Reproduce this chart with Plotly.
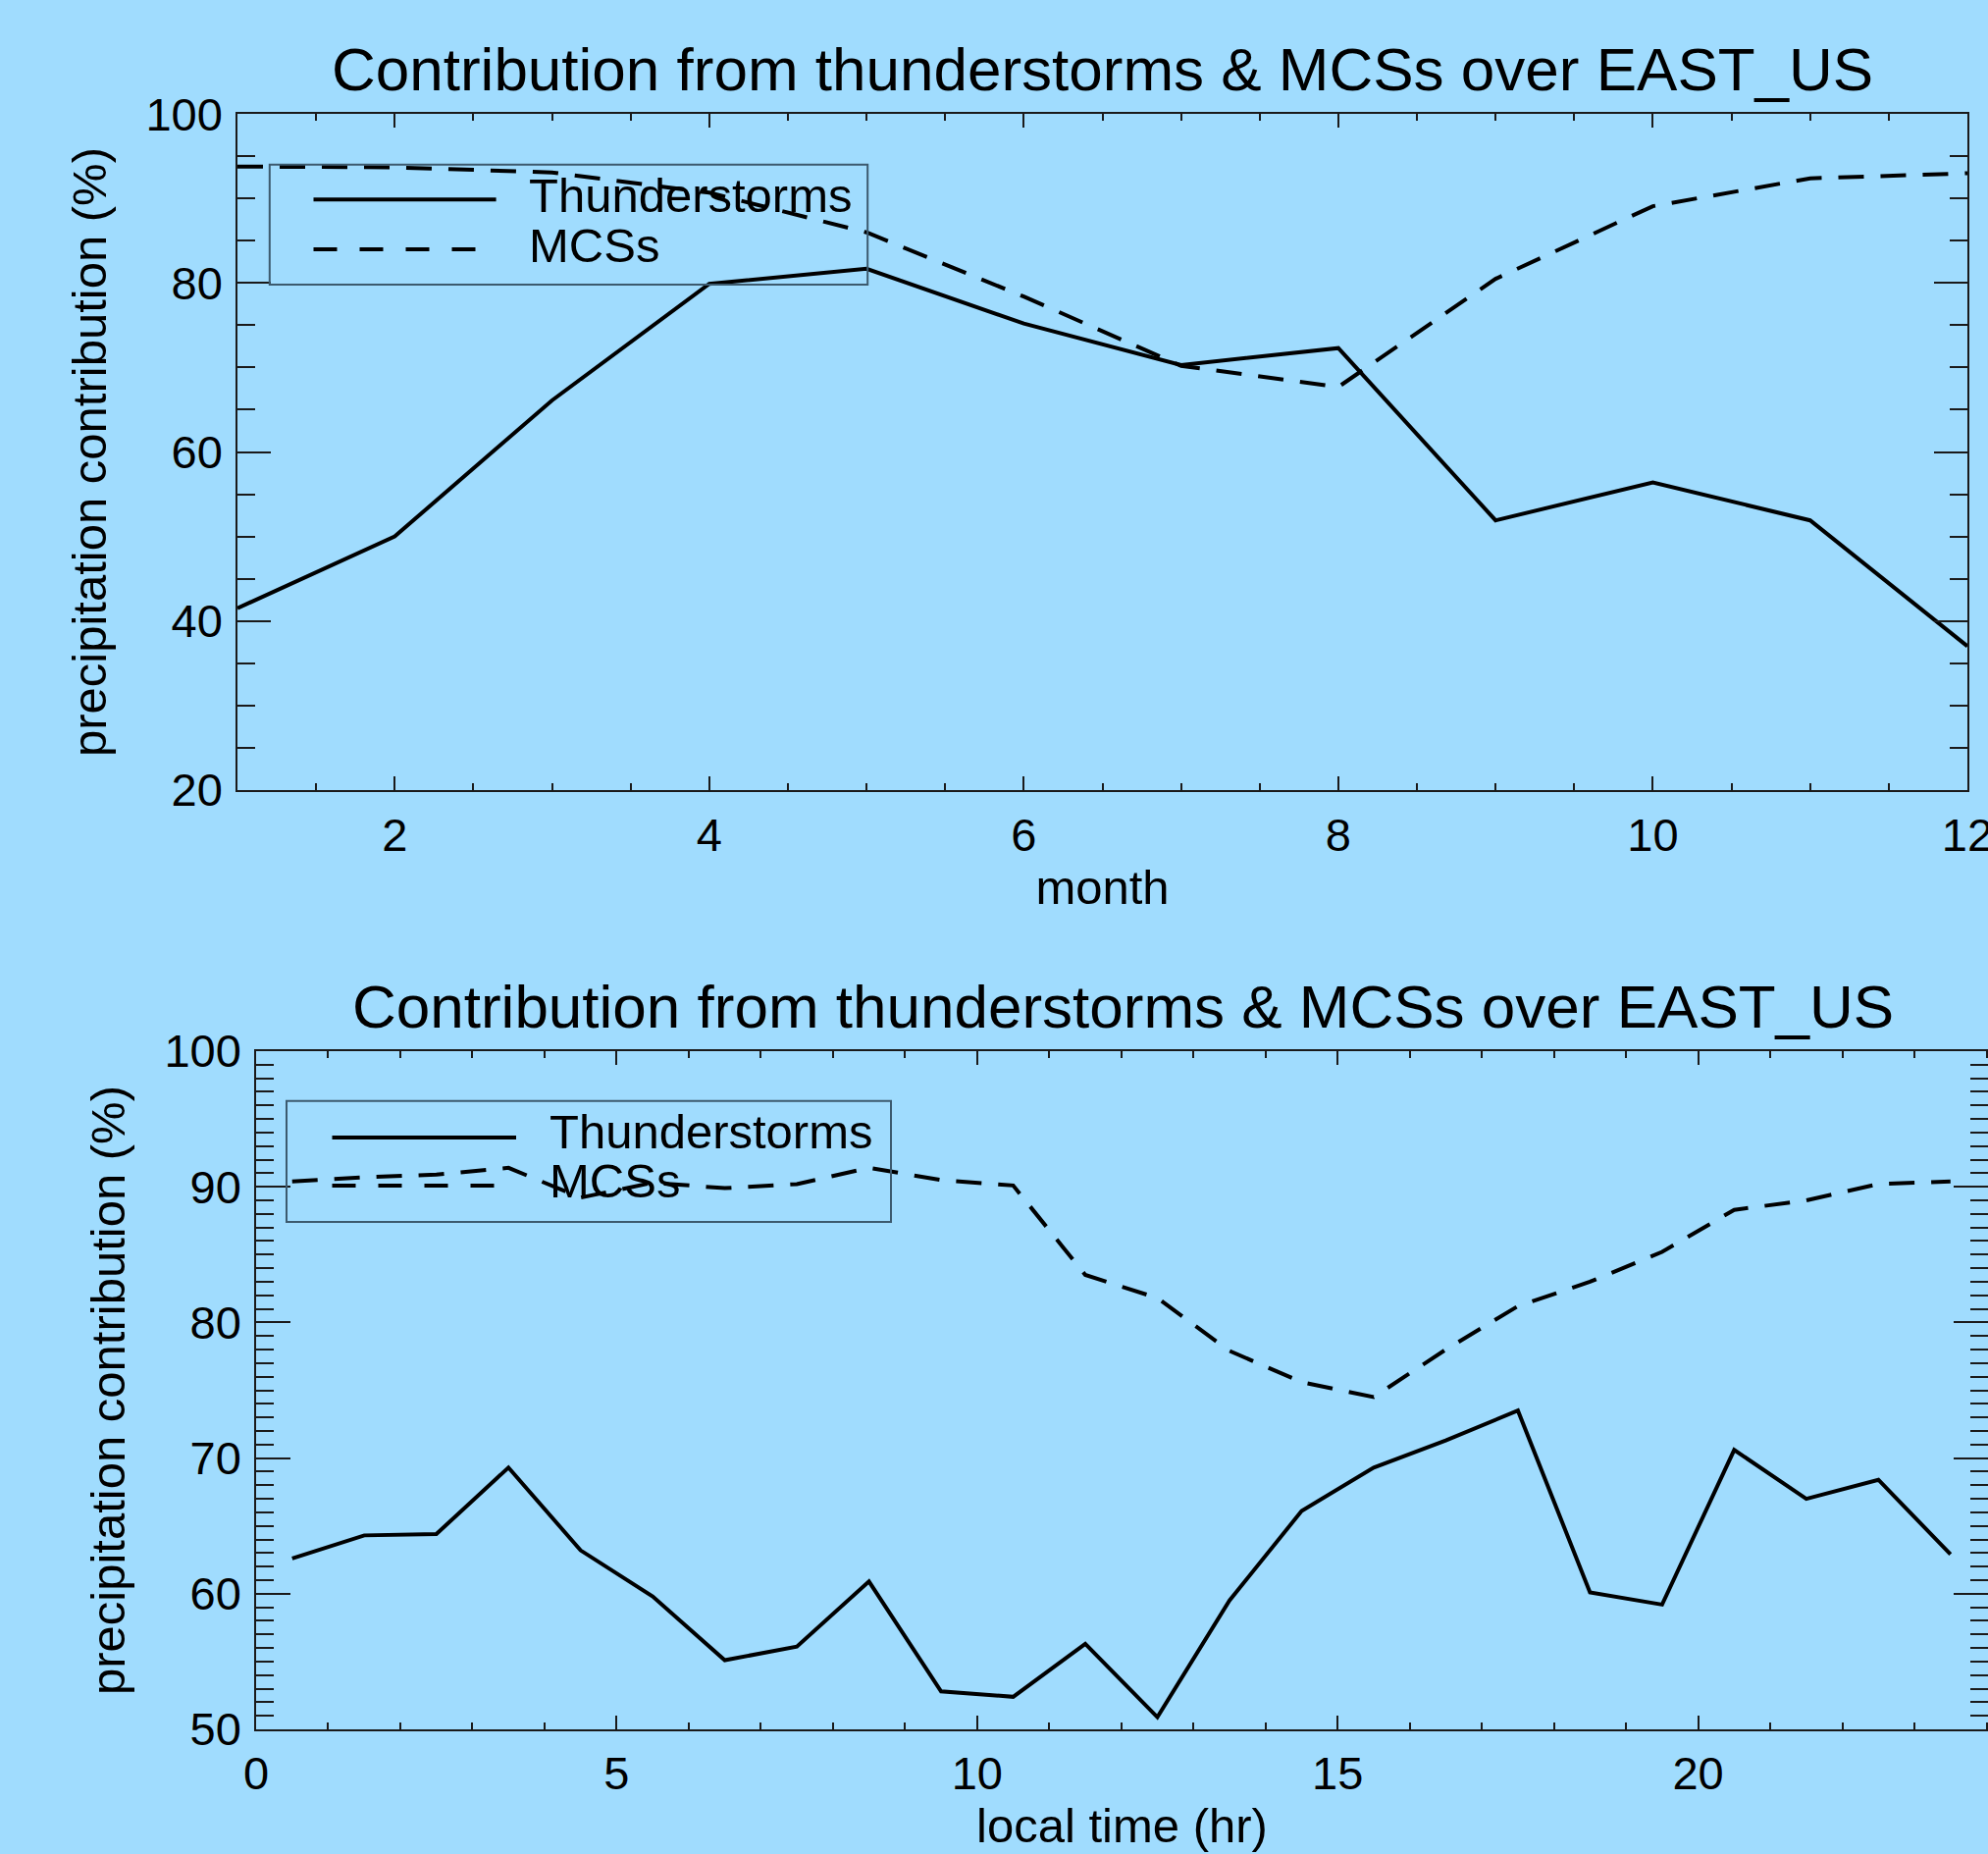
import plotly.graph_objects as go

# ---- data ----
months = [1, 2, 3, 4, 5, 6, 7, 8, 9, 10, 11, 12]
thunder_month = [41.5, 50.0, 66.1, 79.9, 81.7, 75.2, 70.3, 72.3, 51.9, 56.4, 51.9, 37.0]
mcs_month = [93.8, 93.7, 93.1, 90.7, 86.0, 78.4, 70.2, 67.7, 80.5, 89.1, 92.4, 93.0]

hours = [0.5, 1.5, 2.5, 3.5, 4.5, 5.5, 6.5, 7.5, 8.5, 9.5, 10.5, 11.5,
         12.5, 13.5, 14.5, 15.5, 16.5, 17.5, 18.5, 19.5, 20.5, 21.5, 22.5, 23.5]
thunder_hour = [62.6, 64.3, 64.4, 69.3, 63.2, 59.8, 55.1, 56.1, 60.9, 52.8, 52.4, 56.3,
                50.9, 59.5, 66.1, 69.3, 71.3, 73.5, 60.1, 59.2, 70.6, 67.0, 68.4, 62.9]
mcs_hour = [90.4, 90.7, 90.9, 91.4, 89.2, 90.3, 89.9, 90.2, 91.4, 90.5, 90.1, 83.5,
            81.8, 77.9, 75.6, 74.5, 78.0, 81.2, 83.0, 85.2, 88.3, 89.0, 90.2, 90.4]

series_names = ["Thunderstorms", "MCSs"]
title_text = "Contribution from thunderstorms & MCSs over EAST_US"
ylabel = "precipitation contribution (%)"
xlabel_top = "month"
xlabel_bottom = "local time (hr)"

BG = "#A0DCFE"
FONT = "Liberation Sans"
AX = "#1a1a1a"
DASH = "26px,17px"
LEG_DASH = "24px,23px"
LW = 4

W, H = 2026, 1889


def px(x):
    return x / W


def py(y):
    return 1 - y / H


fig = go.Figure()
fig.add_trace(go.Scatter(x=months, y=thunder_month, mode="lines", name=series_names[0],
                         line=dict(color="black", width=LW), xaxis="x", yaxis="y"))
fig.add_trace(go.Scatter(x=months, y=mcs_month, mode="lines", name=series_names[1],
                         line=dict(color="black", width=LW, dash=DASH), xaxis="x", yaxis="y"))
fig.add_trace(go.Scatter(x=hours, y=thunder_hour, mode="lines", name=series_names[0],
                         line=dict(color="black", width=LW), xaxis="x2", yaxis="y2"))
fig.add_trace(go.Scatter(x=hours, y=mcs_hour, mode="lines", name=series_names[1],
                         line=dict(color="black", width=LW, dash=DASH), xaxis="x2", yaxis="y2"))

axis_common = dict(showline=True, linecolor=AX, linewidth=1.5, mirror="ticks",
                   ticks="inside", tickcolor=AX, tickwidth=1.5, showgrid=False,
                   zeroline=False, ticklabeloverflow="allow",
                   tickfont=dict(family=FONT, size=47, color="black"))
title_font = dict(family=FONT, size=49, color="black")


def minor(dt, ln):
    return dict(dtick=dt, ticklen=ln, ticks="inside", tickcolor=AX, tickwidth=1.5)


# ---- hand-made legend boxes (matching the IDL-style legends) ----
shapes = []
annotations = []


def legend_block(box, solid_y, dash_y, x0, x1, dash_x1, text_x, text_ys):
    bx0, bx1, by0, by1 = box
    shapes.append(dict(type="rect", xref="paper", yref="paper", x0=px(bx0), x1=px(bx1),
                       y0=py(by1), y1=py(by0), line=dict(color="#3c5a6e", width=2),
                       fillcolor="rgba(0,0,0,0)", layer="above"))
    shapes.append(dict(type="line", xref="paper", yref="paper", x0=px(x0), x1=px(x1),
                       y0=py(solid_y), y1=py(solid_y), line=dict(color="black", width=LW)))
    shapes.append(dict(type="line", xref="paper", yref="paper", x0=px(x0), x1=px(dash_x1),
                       y0=py(dash_y), y1=py(dash_y), line=dict(color="black", width=LW, dash=LEG_DASH)))
    for name, ty in zip(series_names, text_ys):
        annotations.append(dict(text=name, x=px(text_x), y=py(ty), xref="paper", yref="paper",
                                xanchor="left", yanchor="middle", showarrow=False,
                                font=dict(family=FONT, size=49, color="black")))


legend_block((274.8, 884.2, 167.7, 290.0), 203.3, 254.0, 319.5, 505.6, 505.0, 537.0, (199.0, 249.5))
legend_block((292.0, 908.0, 1121.7, 1245.0), 1159.0, 1208.0, 338.5, 526.0, 524.0, 558.0, (1153.0, 1203.0))

annotations.append(dict(text=title_text, x=px((242 + 2005) / 2), y=py(71), xref="paper", yref="paper",
                        xanchor="center", yanchor="middle", showarrow=False,
                        font=dict(family=FONT, size=62, color="black")))
annotations.append(dict(text=title_text, x=px((261 + 2027) / 2), y=py(1025), xref="paper", yref="paper",
                        xanchor="center", yanchor="middle", showarrow=False,
                        font=dict(family=FONT, size=62, color="black")))

fig.update_layout(
    width=W, height=H,
    margin=dict(l=0, r=0, t=0, b=0, autoexpand=False),
    paper_bgcolor=BG, plot_bgcolor=BG,
    font=dict(family=FONT, size=47, color="black"),
    showlegend=False,
    xaxis=dict(domain=[px(242), px(2005)], range=[1, 12], tick0=0, dtick=2, ticklen=14,
               minor=minor(0.5, 7), anchor="y", ticklabelstandoff=4,
               title=dict(text=xlabel_top, standoff=6, font=title_font), **axis_common),
    yaxis=dict(domain=[py(804.7), py(116.3)], range=[20, 100], tick0=0, dtick=20, ticklen=34,
               minor=minor(5, 18), anchor="x", ticklabelstandoff=4,
               title=dict(text=ylabel, standoff=24, font=title_font), **axis_common),
    xaxis2=dict(domain=[px(261), 1.0], range=[0, 24.02], tick0=0, dtick=5, ticklen=14,
                minor=minor(1, 7), anchor="y2", ticklabelstandoff=3,
                title=dict(text=xlabel_bottom, standoff=8, font=title_font), **axis_common),
    yaxis2=dict(domain=[py(1762), py(1071)], range=[50, 100], tick0=0, dtick=10, ticklen=35,
                minor=minor(1, 18), anchor="x2", ticklabelstandoff=4,
                title=dict(text=ylabel, standoff=24, font=title_font), **axis_common),
    shapes=shapes,
    annotations=annotations,
)

fig.write_html("out.html", config={"displayModeBar": False},
               post_script="document.body.style.margin='0';document.body.style.overflow='hidden';")
